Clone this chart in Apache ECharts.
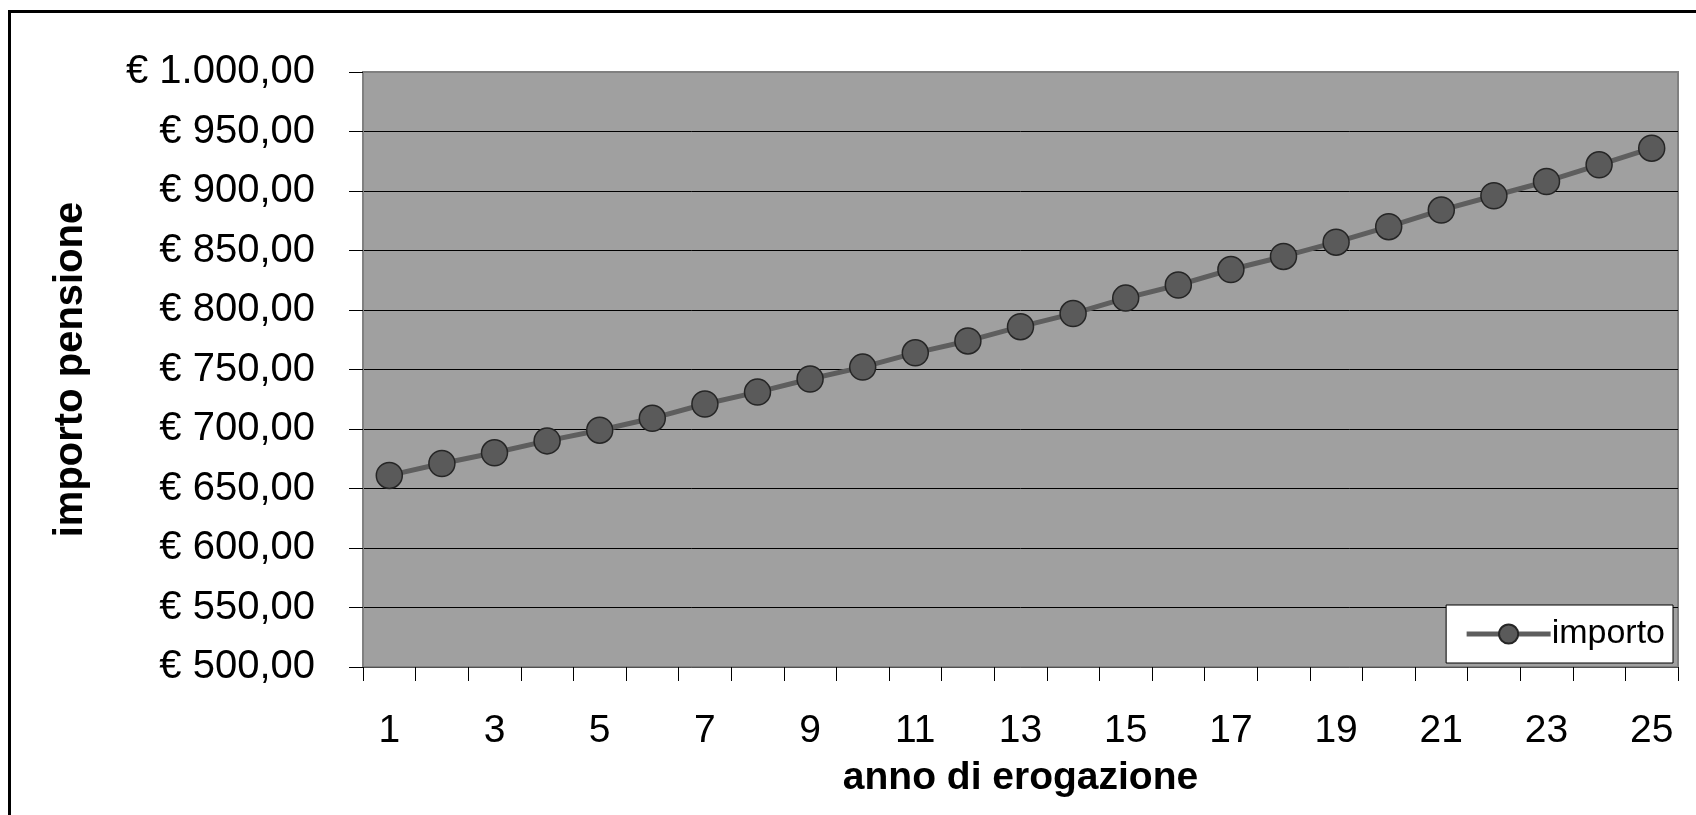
<!DOCTYPE html>
<html>
<head>
<meta charset="utf-8">
<script src="https://cdn.jsdelivr.net/npm/echarts@6/dist/echarts.min.js"></script>
<style>
  html, body { margin: 0; padding: 0; background: #fff; }
  #chart { width: 1696px; height: 815px; }
</style>
</head>
<body>
<div id="chart"></div>
<script>
// anni di erogazione 1..25
const anni = ['1', '2', '3', '4', '5', '6', '7', '8', '9', '10', '11', '12', '13',
  '14', '15', '16', '17', '18', '19', '20', '21', '22', '23', '24', '25']
// importo pensione
const importo = [661, 671, 680, 690, 699, 709, 721, 731, 742, 752, 764, 774, 786,
  797, 810, 821, 834, 845, 857, 870, 884, 896, 908, 922, 936]
const yMin = 500
const yMax = 1000
const yStep = 50

const FONT = '"Liberation Sans", Arial, sans-serif'

function euro(v) {
  const s = String(v).replace(/\B(?=(\d{3})+(?!\d))/g, '.')
  return '€ ' + s + ',00'
}

const chart = echarts.init(document.getElementById('chart'))

const option = {
  backgroundColor: '#fff',
  animation: false,
  textStyle: { fontFamily: FONT, color: '#000' },
  graphic: [{
    type: 'rect',
    shape: { x: 9.5, y: 11.5, width: 1720, height: 900 },
    style: { fill: 'none', stroke: '#000', lineWidth: 3 },
    silent: true
  }],
  grid: {
    left: 363,
    top: 72,
    right: 18,
    bottom: 148,
    show: true,
    backgroundColor: '#a0a0a0',
    borderColor: '#808080',
    borderWidth: 2
  },
  legend: {
    right: 23,
    bottom: 152,
    orient: 'horizontal',
    backgroundColor: '#fff',
    borderColor: '#000',
    borderWidth: 1,
    borderRadius: 0,
    padding: [12, 8, 12, 18],
    itemWidth: 84,
    itemHeight: 24,
    itemGap: 0,
    lineStyle: { width: 5, color: '#5e5e5e' },
    textStyle: { fontFamily: FONT, fontSize: 34, color: '#000', padding: [0, 0, 0, -4] },
    data: ['importo']
  },
  xAxis: {
    type: 'category',
    data: anni,
    boundaryGap: true,
    name: 'anno di erogazione',
    nameLocation: 'middle',
    nameGap: 92,
    nameTextStyle: { fontFamily: FONT, fontSize: 39, fontWeight: 'bold', color: '#000' },
    axisLine: { show: true, lineStyle: { color: '#505050', width: 1 } },
    axisTick: { show: true, interval: 0, length: 14, lineStyle: { color: '#000' } },
    axisLabel: { interval: 1, margin: 45, fontSize: 39, color: '#000', fontFamily: FONT },
    splitLine: { show: false }
  },
  yAxis: {
    type: 'value',
    min: yMin,
    max: yMax,
    interval: yStep,
    name: 'importo pensione',
    nameLocation: 'middle',
    nameGap: 272,
    nameRotate: 90,
    nameTextStyle: { fontFamily: FONT, fontSize: 40, fontWeight: 'bold', color: '#000' },
    axisLine: { show: true, lineStyle: { color: '#808080', width: 2 } },
    axisTick: { show: true, length: 14, lineStyle: { color: '#000' } },
    axisLabel: { margin: 48, fontSize: 40, color: '#000', fontFamily: FONT, formatter: euro },
    splitLine: { show: true, showMinLine: false, showMaxLine: false, lineStyle: { color: '#000', width: 1 } }
  },
  series: [{
    name: 'importo',
    type: 'line',
    data: importo,
    symbol: 'circle',
    symbolSize: 26,
    lineStyle: { color: '#5e5e5e', width: 5 },
    itemStyle: { color: '#5a5a5a', borderColor: '#262626', borderWidth: 1.5 }
  }]
}

chart.setOption(option)
</script>
</body>
</html>
